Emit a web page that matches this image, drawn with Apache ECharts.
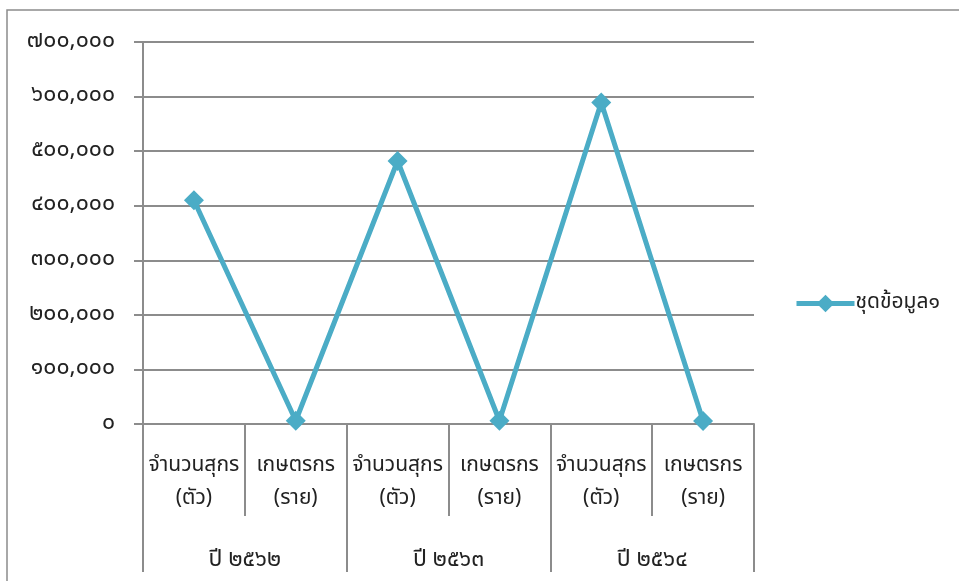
<!DOCTYPE html>
<html>
<head>
<meta charset="utf-8">
<script src="https://cdn.jsdelivr.net/npm/echarts@6/dist/echarts.min.js"></script>
<style>
  html, body { margin: 0; padding: 0; background: #fff; }
  #grafico { width: 959px; height: 581px; }
</style>
</head>
<body>
<div id="grafico"></div>
<script>
// categorias del eje x (dos niveles)
const categorias = [
  "จำนวนสุกร\n(ตัว)", "เกษตรกร\n(ราย)",
  "จำนวนสุกร\n(ตัว)", "เกษตรกร\n(ราย)",
  "จำนวนสุกร\n(ตัว)", "เกษตรกร\n(ราย)"
];
const anios = ["ปี ๒๕๖๒", "ปี ๒๕๖๓", "ปี ๒๕๖๔"];
const valores = [410000, 6000, 482000, 6000, 589000, 5500];
const nombreSerie = "ชุดข้อมูล๑";

const digitosThai = ["๐", "๑", "๒", "๓", "๔", "๕", "๖", "๗", "๘", "๙"];
function aThai(n) {
  let s = n.toString().replace(/\B(?=(\d{3})+(?!\d))/g, ",");
  return s.replace(/\d/g, function (d) { return digitosThai[+d]; });
}

const fuente = "Tahoma, 'Noto Sans Thai', 'Noto Sans', sans-serif";
const gris = "#8c8c8c";
const azul = "#4BACC6";

var myChart = echarts.init(document.getElementById("grafico"));
var option = {
  animation: false,
  textStyle: { fontFamily: fuente },
  graphic: [
    {
      type: "rect",
      shape: { x: 7, y: 10, width: 1000, height: 700 },
      style: { fill: "none", stroke: gris, lineWidth: 1.5 }
    }
  ],
  grid: { left: 143, right: 205, top: 42, bottom: 157 },
  legend: {
    left: 789,
    top: 288,
    itemWidth: 58,
    itemHeight: 22,
    itemGap: 2,
    lineStyle: { width: 5, color: azul },
    textStyle: { fontSize: 21, color: "#222", fontFamily: fuente, padding: [0, 0, 0, -4] },
    data: [nombreSerie]
  },
  xAxis: [
    {
      type: "category",
      data: categorias,
      boundaryGap: true,
      axisLine: { show: true, lineStyle: { color: gris, width: 2 } },
      axisTick: { show: true, length: 92, lineStyle: { color: gris, width: 2 } },
      axisLabel: {
        interval: 0,
        margin: 26,
        fontSize: 21,
        lineHeight: 33,
        color: "#222",
        fontFamily: fuente
      }
    },
    {
      type: "category",
      data: anios,
      position: "bottom",
      boundaryGap: true,
      axisLine: { show: false },
      axisTick: { show: true, length: 148, lineStyle: { color: gris, width: 2 } },
      axisLabel: {
        interval: 0,
        margin: 123,
        fontSize: 23,
        lineHeight: 28,
        color: "#222",
        fontFamily: fuente
      }
    }
  ],
  yAxis: {
    type: "value",
    min: 0,
    max: 700000,
    interval: 100000,
    axisLine: { show: true, lineStyle: { color: gris, width: 2 } },
    axisTick: { show: true, length: 9, lineStyle: { color: gris, width: 2 } },
    splitLine: { show: true, lineStyle: { color: gris, width: 2 } },
    axisLabel: {
      margin: 28,
      fontSize: 23,
      color: "#222",
      fontFamily: fuente,
      formatter: function (v) { return aThai(v); }
    }
  },
  series: [
    {
      name: nombreSerie,
      type: "line",
      xAxisIndex: 0,
      data: valores,
      symbol: "diamond",
      symbolSize: 20,
      lineStyle: { color: azul, width: 5 },
      itemStyle: { color: azul }
    }
  ]
};
myChart.setOption(option);
</script>
</body>
</html>
